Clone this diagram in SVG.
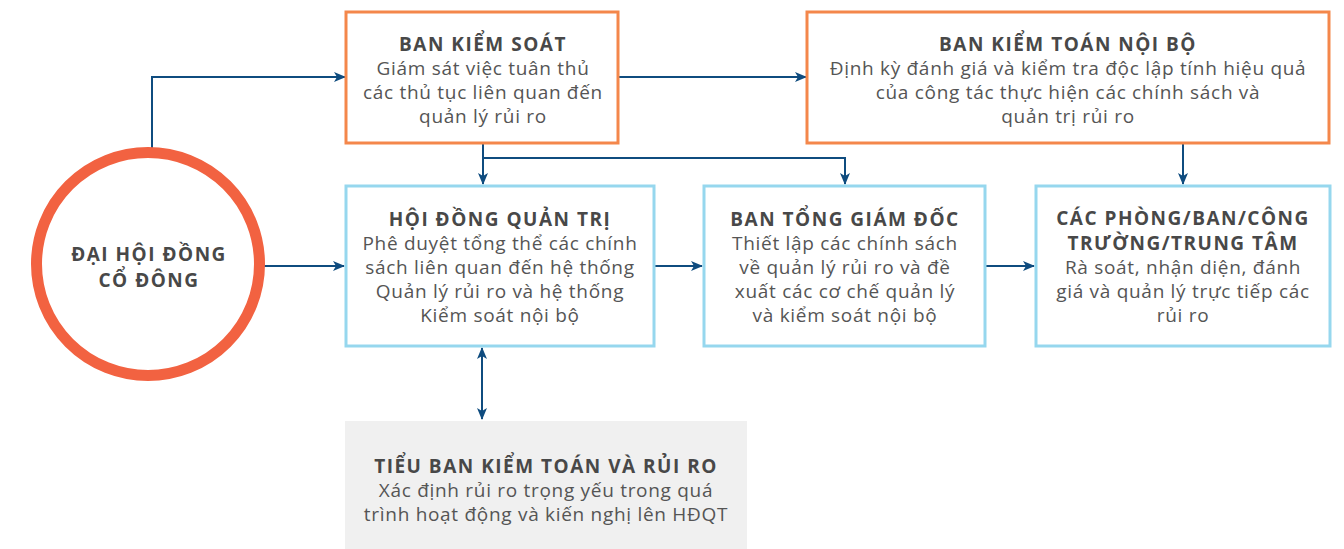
<svg xmlns="http://www.w3.org/2000/svg" width="1344" height="549" viewBox="0 0 1344 549">
<style>
.t{font-family:"Open Sans","Noto Sans",sans-serif;font-size:19px;font-weight:bold;fill:#484848;text-anchor:middle;letter-spacing:1.5px}
.b{font-family:"Open Sans","Noto Sans",sans-serif;font-size:19px;fill:#555555;text-anchor:middle;letter-spacing:0.7px}
.org{fill:#ffffff;stroke:#F4874B;stroke-width:3}
.blu{fill:#ffffff;stroke:#96D7EE;stroke-width:3}
.ln{fill:none;stroke:#0F4C7F;stroke-width:2}
</style>
<defs>
<marker id="ah" viewBox="0 0 12 10" refX="11" refY="5" markerWidth="12" markerHeight="10" markerUnits="userSpaceOnUse" orient="auto-start-reverse">
<path d="M0,0 L12,5 L0,10 L3,5 Z" fill="#0F4C7F"/>
</marker>
</defs>
<g id="connectors">
<path class="ln" d="M152,153 V77 H345" marker-end="url(#ah)"/>
<path class="ln" d="M619,77 H806" marker-end="url(#ah)"/>
<path class="ln" d="M483,144 V184" marker-end="url(#ah)"/>
<path class="ln" d="M483,158 H845 V184" marker-end="url(#ah)"/>
<path class="ln" d="M1183,144 V184" marker-end="url(#ah)"/>
<path class="ln" d="M259,266 H344" marker-end="url(#ah)"/>
<path class="ln" d="M655,266 H702" marker-end="url(#ah)"/>
<path class="ln" d="M986,266 H1034" marker-end="url(#ah)"/>
<path class="ln" d="M482,348 V419" marker-start="url(#ah)" marker-end="url(#ah)"/>
</g>
<g id="dhdcd">
<circle cx="148" cy="264" r="111.5" fill="#ffffff" stroke="#F26241" stroke-width="11"/>
<text class="t" x="149" y="261">ĐẠI HỘI ĐỒNG</text>
<text class="t" x="149" y="287">CỔ ĐÔNG</text>
</g>
<g id="bks">
<rect class="org" x="346" y="12" width="272" height="131"/>
<text class="t" x="483" y="51">BAN KIỂM SOÁT</text>
<text class="b" x="483" y="75">Giám sát việc tuân thủ</text>
<text class="b" x="483" y="99">các thủ tục liên quan đến</text>
<text class="b" x="483" y="123">quản lý rủi ro</text>
</g>
<g id="bktnb">
<rect class="org" x="807" y="12" width="522" height="131"/>
<text class="t" x="1068" y="51">BAN KIỂM TOÁN NỘI BỘ</text>
<text class="b" x="1068" y="75">Định kỳ đánh giá và kiểm tra độc lập tính hiệu quả</text>
<text class="b" x="1068" y="99">của công tác thực hiện các chính sách và</text>
<text class="b" x="1068" y="123">quản trị rủi ro</text>
</g>
<g id="hdqt">
<rect class="blu" x="346" y="186" width="308" height="160"/>
<text class="t" x="500" y="226">HỘI ĐỒNG QUẢN TRỊ</text>
<text class="b" x="500" y="250">Phê duyệt tổng thể các chính</text>
<text class="b" x="500" y="274">sách liên quan đến hệ thống</text>
<text class="b" x="500" y="298">Quản lý rủi ro và hệ thống</text>
<text class="b" x="500" y="322">Kiểm soát nội bộ</text>
</g>
<g id="btgd">
<rect class="blu" x="704" y="186" width="281" height="160"/>
<text class="t" x="845" y="226">BAN TỔNG GIÁM ĐỐC</text>
<text class="b" x="845" y="250">Thiết lập các chính sách</text>
<text class="b" x="845" y="274">về quản lý rủi ro và đề</text>
<text class="b" x="845" y="298">xuất các cơ chế quản lý</text>
<text class="b" x="845" y="322">và kiểm soát nội bộ</text>
</g>
<g id="cpb">
<rect class="blu" x="1036" y="186" width="294" height="160"/>
<text class="t" x="1183" y="225">CÁC PHÒNG/BAN/CÔNG</text>
<text class="t" x="1183" y="250">TRƯỜNG/TRUNG TÂM</text>
<text class="b" x="1183" y="274">Rà soát, nhận diện, đánh</text>
<text class="b" x="1183" y="298">giá và quản lý trực tiếp các</text>
<text class="b" x="1183" y="322">rủi ro</text>
</g>
<g id="tbktrr">
<rect x="345" y="421" width="402" height="128" fill="#F0F0F0"/>
<text class="t" x="546" y="473">TIỂU BAN KIỂM TOÁN VÀ RỦI RO</text>
<text class="b" x="546" y="497">Xác định rủi ro trọng yếu trong quá</text>
<text class="b" x="546" y="521">trình hoạt động và kiến nghị lên HĐQT</text>
</g>
</svg>
